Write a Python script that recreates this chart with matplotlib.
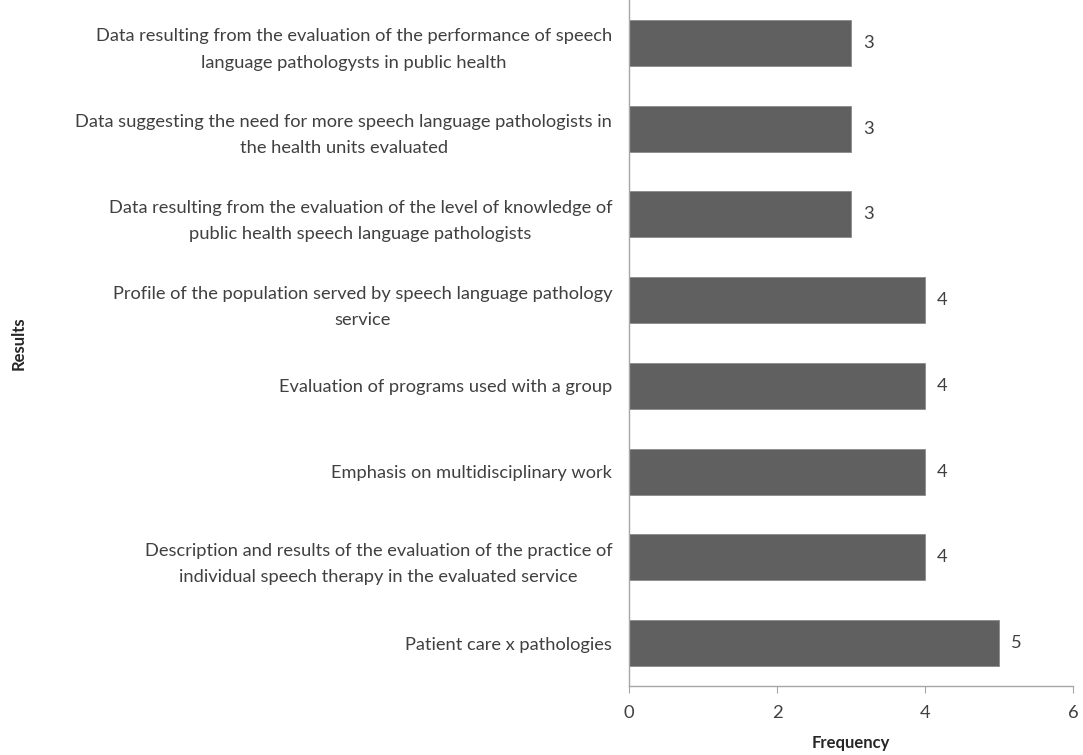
import matplotlib
matplotlib.use('Agg')
import matplotlib.pyplot as plt

plt.rcParams['font.family'] = ['Lato', 'DejaVu Sans']

# categories listed bottom to top
results = [
    'Patient care x pathologies',
    'Description and results of the evaluation of the practice of\nindividual speech therapy in the evaluated service',
    'Emphasis on multidisciplinary work',
    'Evaluation of programs used with a group',
    'Profile of the population served by speech language pathology\nservice',
    'Data resulting from the evaluation of the level of knowledge of\npublic health speech language pathologists',
    'Data suggesting the need for more speech language pathologists in\nthe health units evaluated',
    'Data resulting from the evaluation of the performance of speech\nlanguage pathologysts in public health',
]
frequency = [5, 4, 4, 4, 4, 3, 3, 3]
xticks = [0, 2, 4, 6]

textColor = '#404040'
axisColor = '#a6a6a6'

fig = plt.figure(figsize=(10.83, 7.55), dpi=100)
ax = fig.add_axes([0.5808, 0.0914, 0.41, 0.9086])

pos = list(range(len(results)))
ax.barh(pos, frequency, height=0.535, color='#606060', edgecolor='#8a8a8a', linewidth=0.6)

for y, v in zip(pos, frequency):
    ax.text(v + 0.16, y, str(v), va='center', ha='left', fontsize=13.2, color=textColor)

ax.set_xlim(0, 6)
ax.set_ylim(-0.5, len(results) - 0.5)
ax.set_xticks(xticks)
ax.set_xticklabels([str(t) for t in xticks], fontsize=13.2, color=textColor)
ax.set_yticks(pos)
ax.set_yticklabels(results, fontsize=13.15, color=textColor, ha='right', multialignment='center',
                   linespacing=1.78)
ax.tick_params(axis='y', length=0, pad=12)
ax.tick_params(axis='x', length=5, color=axisColor, pad=9)

for side in ['top', 'right']:
    ax.spines[side].set_visible(False)
for side in ['left', 'bottom']:
    ax.spines[side].set_color(axisColor)
    ax.spines[side].set_linewidth(1)

ax.set_xlabel('Frequency', fontsize=12, fontweight='bold', color='#262626', labelpad=10)
fig.text(0.0175, 0.545, 'Results', rotation=90, fontsize=12, fontweight='bold',
         color='#262626', ha='center', va='center')

fig.savefig('out.png', dpi=100)
